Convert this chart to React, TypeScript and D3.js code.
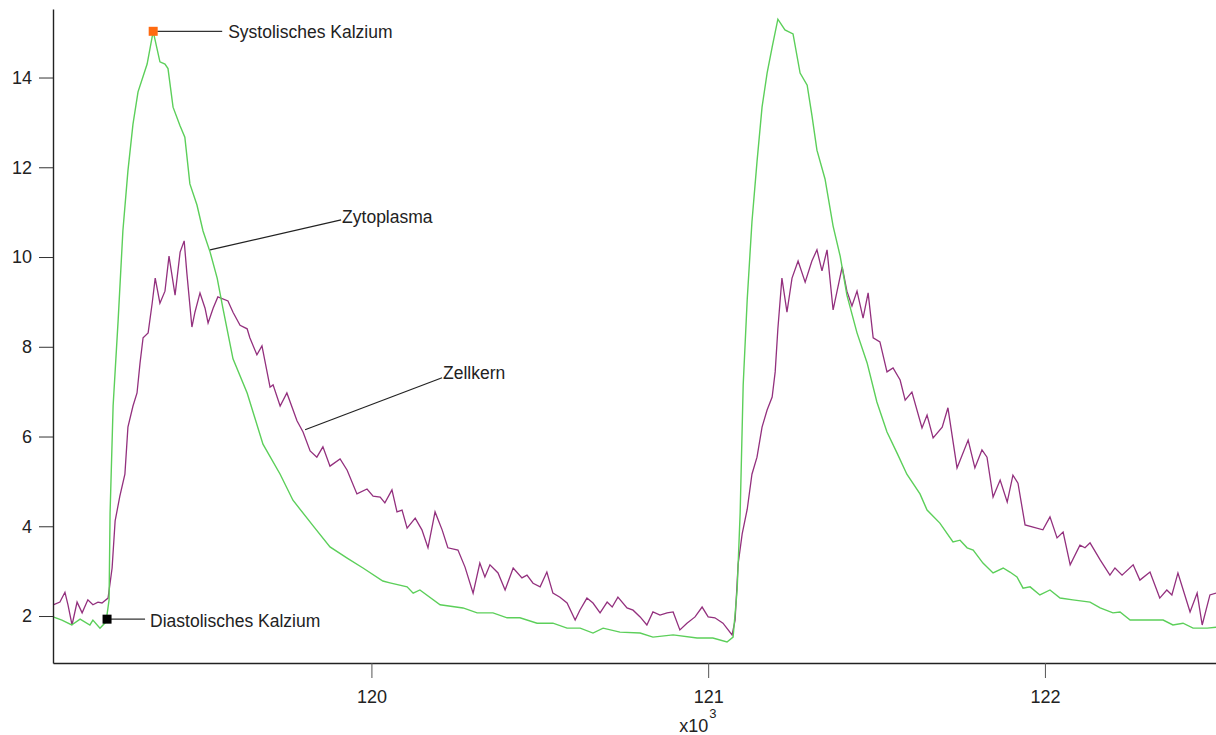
import { useEffect, useRef } from "react";
import * as d3 from "d3";

// time in ms, calcium value (ratio)
const zytoplasma: [number, number][] = [
  [119055, 1.98], [119081, 1.91], [119110, 1.8], [119135, 1.93], [119164, 1.8], [119173, 1.91],
  [119194, 1.73], [119212, 1.87], [119221, 2.36], [119224, 4.3], [119233, 6.68], [119248, 8.6],
  [119262, 10.58], [119277, 11.92], [119292, 12.96], [119307, 13.68], [119334, 14.3], [119352, 15.03],
  [119372, 14.35], [119387, 14.3], [119396, 14.2], [119411, 13.34], [119432, 12.92], [119446, 12.67],
  [119461, 11.63], [119482, 11.16], [119500, 10.58], [119521, 10.11], [119542, 9.53], [119559, 8.86],
  [119589, 7.73], [119631, 6.97], [119678, 5.83], [119729, 5.16], [119767, 4.58], [119827, 4.01],
  [119877, 3.54], [119928, 3.29], [119975, 3.07], [120034, 2.78], [120055, 2.74], [120106, 2.65],
  [120124, 2.51], [120144, 2.58], [120204, 2.25], [120272, 2.18], [120314, 2.07], [120361, 2.07],
  [120403, 1.96], [120441, 1.96], [120492, 1.84], [120539, 1.84], [120581, 1.73], [120620, 1.73],
  [120658, 1.62], [120688, 1.73], [120738, 1.64], [120798, 1.62], [120836, 1.53], [120896, 1.58],
  [120967, 1.51], [121014, 1.51], [121056, 1.42], [121074, 1.53], [121086, 2.58], [121095, 4.3],
  [121104, 7.15], [121116, 9.06], [121130, 10.78], [121145, 12.12], [121160, 13.34], [121175, 14.1],
  [121190, 14.68], [121207, 15.3], [121228, 15.06], [121252, 14.97], [121273, 14.1], [121294, 13.83],
  [121308, 13.16], [121323, 12.38], [121347, 11.74], [121371, 10.69], [121392, 10.02], [121412, 9.15],
  [121442, 8.31], [121472, 7.64], [121501, 6.77], [121531, 6.1], [121561, 5.63], [121590, 5.16],
  [121629, 4.72], [121650, 4.36], [121688, 4.07], [121727, 3.65], [121748, 3.69], [121769, 3.52],
  [121787, 3.47], [121816, 3.18], [121846, 2.96], [121876, 3.07], [121896, 2.98], [121917, 2.87],
  [121935, 2.62], [121956, 2.65], [121985, 2.47], [122015, 2.58], [122045, 2.4], [122083, 2.36],
  [122134, 2.31], [122164, 2.18], [122202, 2.07], [122223, 2.09], [122253, 1.91], [122303, 1.91],
  [122351, 1.91], [122380, 1.8], [122410, 1.84], [122440, 1.73], [122482, 1.73], [122508, 1.75],
];

const zellkern: [number, number][] = [
  [119055, 2.25], [119075, 2.31], [119090, 2.53], [119099, 2.25], [119111, 1.8], [119126, 2.31],
  [119141, 2.07], [119158, 2.36], [119173, 2.25], [119188, 2.31], [119200, 2.29], [119218, 2.4],
  [119230, 3.07], [119239, 4.12], [119253, 4.67], [119268, 5.16], [119277, 6.21], [119292, 6.68],
  [119304, 6.97], [119313, 7.64], [119322, 8.2], [119337, 8.31], [119349, 8.97], [119358, 9.53],
  [119372, 8.97], [119387, 9.24], [119399, 10.02], [119417, 9.15], [119432, 10.11], [119444, 10.36],
  [119452, 9.64], [119467, 8.44], [119476, 8.77], [119491, 9.2], [119506, 8.86], [119515, 8.53],
  [119530, 8.86], [119544, 9.11], [119574, 9.02], [119589, 8.77], [119610, 8.48], [119631, 8.4],
  [119639, 8.2], [119660, 7.82], [119675, 8.02], [119699, 7.1], [119708, 7.15], [119729, 6.68],
  [119749, 6.97], [119779, 6.35], [119797, 6.1], [119818, 5.68], [119838, 5.54], [119856, 5.77],
  [119877, 5.34], [119907, 5.5], [119928, 5.25], [119957, 4.72], [119987, 4.83], [120005, 4.67],
  [120026, 4.65], [120040, 4.52], [120061, 4.81], [120076, 4.32], [120091, 4.36], [120106, 3.96],
  [120130, 4.18], [120150, 3.92], [120168, 3.52], [120189, 4.32], [120210, 3.92], [120227, 3.52],
  [120257, 3.47], [120278, 3.09], [120302, 2.51], [120322, 3.18], [120337, 2.87], [120352, 3.14],
  [120376, 2.96], [120397, 2.58], [120421, 3.07], [120447, 2.85], [120462, 2.91], [120480, 2.73],
  [120501, 2.65], [120521, 2.98], [120539, 2.51], [120560, 2.42], [120581, 2.29], [120605, 1.91],
  [120619, 2.13], [120640, 2.4], [120658, 2.29], [120679, 2.07], [120700, 2.31], [120715, 2.2],
  [120732, 2.42], [120759, 2.18], [120777, 2.13], [120798, 1.98], [120818, 1.8], [120836, 2.09],
  [120857, 2.02], [120878, 2.07], [120896, 2.09], [120916, 1.69], [120937, 1.84], [120961, 1.98],
  [120982, 2.2], [121000, 1.98], [121020, 1.96], [121044, 1.84], [121071, 1.58], [121080, 1.91],
  [121089, 3.16], [121101, 3.83], [121116, 4.38], [121130, 5.16], [121145, 5.54], [121160, 6.21],
  [121175, 6.59], [121190, 6.88], [121199, 7.44], [121207, 8.4], [121219, 9.53], [121234, 8.77],
  [121249, 9.53], [121267, 9.91], [121288, 9.44], [121308, 9.91], [121323, 10.16], [121338, 9.69],
  [121353, 10.16], [121371, 8.82], [121398, 9.78], [121412, 9.24], [121427, 8.91], [121442, 9.24],
  [121460, 8.64], [121475, 9.2], [121490, 8.2], [121510, 8.11], [121531, 7.44], [121549, 7.53],
  [121570, 7.26], [121585, 6.81], [121605, 6.99], [121635, 6.19], [121650, 6.48], [121668, 5.97],
  [121695, 6.21], [121712, 6.64], [121739, 5.3], [121772, 5.92], [121792, 5.3], [121813, 5.7],
  [121828, 5.54], [121846, 4.65], [121867, 5.03], [121888, 4.54], [121905, 5.14], [121920, 4.96],
  [121941, 4.03], [121965, 3.98], [121994, 3.92], [122015, 4.21], [122036, 3.74], [122054, 3.87],
  [122075, 3.14], [122104, 3.58], [122119, 3.52], [122134, 3.63], [122164, 3.25], [122193, 2.91],
  [122208, 3.07], [122229, 2.91], [122262, 3.14], [122282, 2.8], [122312, 2.98], [122341, 2.4],
  [122362, 2.58], [122377, 2.47], [122395, 2.96], [122431, 2.09], [122452, 2.51], [122467, 1.8],
  [122490, 2.47], [122508, 2.51],
];

const xTicks = [120000, 121000, 122000];
const yTicks = [2, 4, 6, 8, 10, 12, 14];

// marked points
const systolic: [number, number] = [119352, 15.03];
const diastolic: [number, number] = [119215, 1.93];
const labelZytoplasma: [number, number] = [119521, 10.16];
const labelZellkern: [number, number] = [119803, 6.15];

const width = 1216;
const height = 735;
const font = "'Liberation Sans', Arial, sans-serif";

export default function App() {
  const xAxisRef = useRef<SVGGElement | null>(null);
  const yAxisRef = useRef<SVGGElement | null>(null);

  const x = d3.scaleLinear().domain([119054.5, 122508]).range([53, 1216]);
  const y = d3.scaleLinear().domain([0.953, 15.527]).range([663, 9]);

  const line = d3
    .line<[number, number]>()
    .x((d) => x(d[0]))
    .y((d) => y(d[1]));

  useEffect(() => {
    const gx = d3.select(xAxisRef.current!);
    gx.call(
      d3
        .axisBottom(x)
        .tickValues(xTicks)
        .tickFormat((d) => String(Math.round(+d / 1000)))
        .tickSize(15)
        .tickSizeOuter(0)
        .tickPadding(12)
    );
    gx.select(".domain").attr("stroke", "#222").attr("stroke-width", 1.4);
    gx.selectAll(".tick line").attr("stroke", "#555");
    gx.selectAll(".tick text").attr("font-size", 18).attr("fill", "#222").attr("font-family", font);
    gx.attr("font-family", font);

    const gy = d3.select(yAxisRef.current!);
    gy.call(d3.axisLeft(y).tickValues(yTicks).tickSize(14).tickSizeOuter(0).tickPadding(7));
    gy.select(".domain").attr("stroke", "#222").attr("stroke-width", 1.4);
    gy.selectAll(".tick line").attr("stroke", "#333");
    gy.selectAll(".tick text").attr("font-size", 18).attr("fill", "#222").attr("font-family", font);
    gy.attr("font-family", font);
  }, []);

  const sx = x(systolic[0]);
  const sy = y(systolic[1]);
  const dx = x(diastolic[0]);
  const dy = y(diastolic[1]);
  const zx = x(labelZytoplasma[0]);
  const zy = y(labelZytoplasma[1]);
  const kx = x(labelZellkern[0]);
  const ky = y(labelZellkern[1]);

  return (
    <div style={{ position: "absolute", left: 0, top: 0 }}>
      <svg width={width} height={height} style={{ display: "block", background: "#fff" }}>
        <path d={line(zellkern) ?? ""} fill="none" stroke="#93307e" strokeWidth={1.3} />
        <path d={line(zytoplasma) ?? ""} fill="none" stroke="#5ccf5a" strokeWidth={1.4} />

        <g ref={xAxisRef} transform={`translate(0,${y.range()[0]})`} />
        <g ref={yAxisRef} transform={`translate(${x.range()[0]},0)`} />

        <g fontFamily={font} fontSize={17.5} fill="#222">
          {/* Systolisches Kalzium */}
          <line x1={sx + 4} y1={sy} x2={sx + 69} y2={sy} stroke="#333" strokeWidth={1.2} />
          <rect x={sx - 4.5} y={sy - 4.5} width={9} height={9} fill="#ff6a10" />
          <text x={sx + 75} y={sy + 1} dominantBaseline="central">Systolisches Kalzium</text>

          {/* Diastolisches Kalzium */}
          <line x1={dx + 4} y1={dy} x2={dx + 38} y2={dy} stroke="#333" strokeWidth={1.2} />
          <rect x={dx - 4.5} y={dy - 4.5} width={9} height={9} fill="#000" />
          <text x={dx + 43} y={dy + 2} dominantBaseline="central">Diastolisches Kalzium</text>

          {/* Zytoplasma */}
          <line x1={zx} y1={zy} x2={zx + 131} y2={zy - 30} stroke="#222" strokeWidth={1.2} />
          <text x={zx + 132} y={zy - 33} dominantBaseline="central">Zytoplasma</text>

          {/* Zellkern */}
          <line x1={kx} y1={ky} x2={kx + 137} y2={ky - 52} stroke="#222" strokeWidth={1.2} />
          <text x={kx + 138} y={ky - 57} dominantBaseline="central">Zellkern</text>

          {/* axis exponent */}
          <text x={x(121000)} y={726} textAnchor="end" dominantBaseline="central" fontSize={18}>x10</text>
          <text x={x(121000) + 1} y={713} dominantBaseline="central" fontSize={13}>3</text>
        </g>
      </svg>
    </div>
  );
}
